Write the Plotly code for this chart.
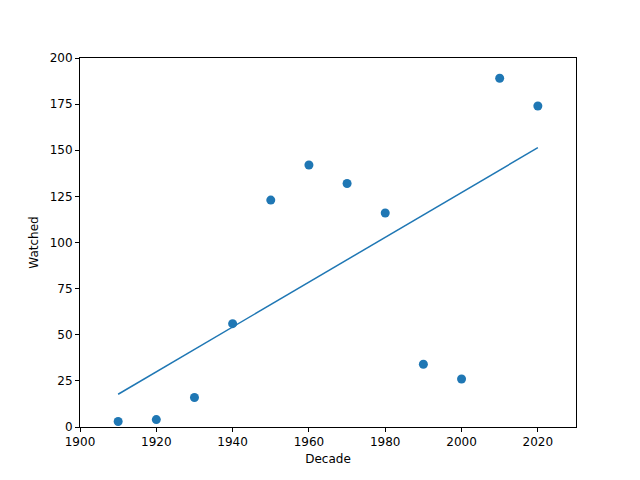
import numpy as np
import plotly.graph_objects as go

decades = [1910, 1920, 1930, 1940, 1950, 1960, 1970, 1980, 1990, 2000, 2010, 2020]
watched = [3, 4, 16, 56, 123, 142, 132, 116, 34, 26, 189, 174]

m, b = np.polyfit(decades, watched, 1)
fit = [m * x + b for x in decades]

fig = go.Figure()
fig.add_trace(go.Scatter(x=decades, y=watched, mode="markers",
                         marker=dict(color="#1f77b4", size=9)))
fig.add_trace(go.Scatter(x=[decades[0], decades[-1]], y=[fit[0], fit[-1]], mode="lines",
                         line=dict(color="#1f77b4", width=1.5)))
axis = dict(showgrid=False, zeroline=False, showline=True, linecolor="black", mirror=True,
            ticks="outside", ticklen=4, tickcolor="black", tickfont=dict(size=12, color="black"))
fig.update_layout(
    width=640, height=480, showlegend=False, plot_bgcolor="white", paper_bgcolor="white",
    margin=dict(l=72, r=72, t=50, b=61),
    font=dict(family="DejaVu Sans", color="black"),
    xaxis=dict(axis, range=[1900, 2030], dtick=20, title=dict(text="Decade", font=dict(size=12), standoff=6)),
    yaxis=dict(axis, range=[0, 200], dtick=25, title=dict(text="Watched", font=dict(size=12), standoff=8)),
)
fig.write_html("out.html")
